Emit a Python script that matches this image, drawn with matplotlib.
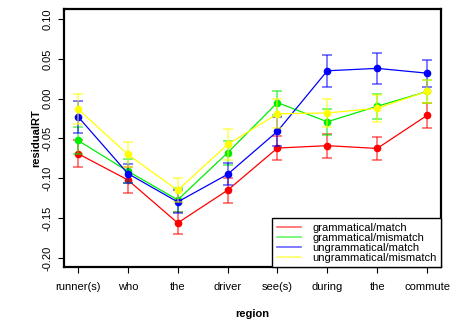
import matplotlib
matplotlib.use('Agg')
import matplotlib.pyplot as plt
import numpy as np

regions = ["runner(s)", "who", "the", "driver", "see(s)", "during", "the", "commute"]
conditions = ["grammatical/match", "grammatical/mismatch",
              "ungrammatical/match", "ungrammatical/mismatch"]

gram_match = [-0.069, -0.102, -0.156, -0.115, -0.062, -0.059, -0.0625, -0.021]
gram_match_se = [0.017, 0.016, 0.014, 0.016, 0.015, 0.015, 0.014, 0.0155]
gram_mismatch = [-0.0525, -0.091, -0.127, -0.068, -0.005, -0.029, -0.0096, 0.009]
gram_mismatch_se = [0.017, 0.015, 0.015, 0.015, 0.015, 0.016, 0.016, 0.015]
ungram_match = [-0.0225, -0.094, -0.1296, -0.095, -0.041, 0.035, 0.038, 0.032]
ungram_match_se = [0.020, 0.012, 0.0145, 0.014, 0.018, 0.020, 0.019, 0.017]
ungram_mismatch = [-0.013, -0.070, -0.115, -0.0575, -0.019, -0.018, -0.012, 0.009]
ungram_mismatch_se = [0.019, 0.016, 0.015, 0.019, 0.018, 0.017, 0.017, 0.015]

series = [gram_match, gram_mismatch, ungram_match, ungram_mismatch]
errors = [gram_match_se, gram_mismatch_se, ungram_match_se, ungram_mismatch_se]
colors = ["#ff0000", "#00ee00", "#0000ff", "#ffff00"]

plt.rcParams['font.family'] = ['Liberation Sans', 'DejaVu Sans']

fig = plt.figure(figsize=(4.59, 3.22), dpi=100)
ax = fig.add_axes([0.1394, 0.1708, 0.8214, 0.8012])

x = np.arange(1, len(regions) + 1)
index = 0
for y in series:
    ax.errorbar(x, y, errors[index], color=colors[index], alpha=0.6,
                linestyle='None', capsize=3.6, elinewidth=1.2, capthick=1.2)
    ax.plot(x, y, color=colors[index], linewidth=0.9, marker='o',
            markersize=4.5, label=conditions[index])
    index = index + 1

ax.set_xlim(0.72, 8.28)
ax.set_ylim(-0.2113, 0.1125)
ax.set_xticks(x)
ax.set_xticklabels(regions, fontsize=8)
yt = [0.10, 0.05, 0.00, -0.05, -0.10, -0.15, -0.20]
ax.set_yticks(yt)
ax.set_yticklabels(["%.2f" % v for v in yt], fontsize=8, rotation=90, va='center')
ax.tick_params(axis='both', length=4, width=0.8, direction='out', pad=4)
ax.tick_params(axis='x', pad=7)
for s in ax.spines.values():
    s.set_linewidth(1.6)

ax.set_ylabel("residualRT", fontsize=8, fontweight='bold', labelpad=1)
ax.set_xlabel("region", fontsize=8, fontweight='bold', labelpad=12)

handles = [plt.Line2D([], [], color=c, alpha=0.6, linewidth=1.2) for c in colors]
leg = ax.legend(handles, conditions, loc='lower right', fontsize=8,
                fancybox=False, framealpha=1, edgecolor='black',
                borderaxespad=0, handlelength=2.2, labelspacing=0.0,
                borderpad=0.4, handletextpad=1.0)
leg.get_frame().set_linewidth(1.0)

fig.savefig("out.png", dpi=100)
